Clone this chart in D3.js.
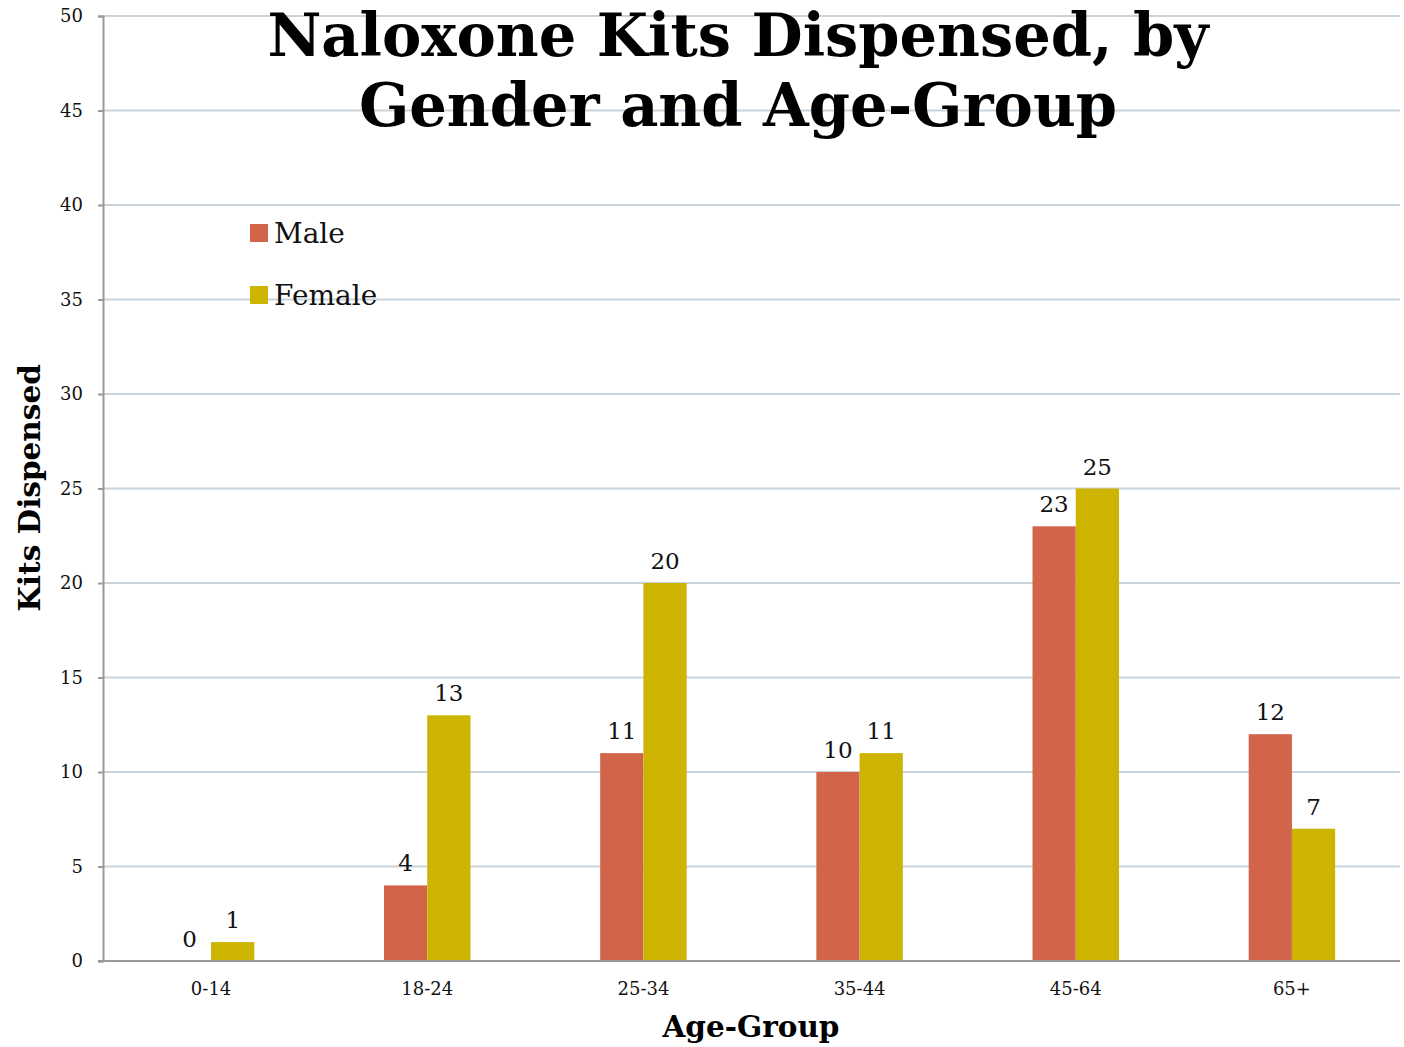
<!DOCTYPE html>
<html><head><meta charset="utf-8">
<script src="https://cdn.jsdelivr.net/npm/d3@7"></script>
<style>body{margin:0;background:#fff}svg{display:block}</style>
</head><body>
<svg id="chart" width="1404" height="1047"></svg>
<script>
const categories = ["0-14","18-24","25-34","35-44","45-64","65+"];
const seriesNames = ["Male","Female"];
const maleValues = [0,4,11,10,23,12];
const femaleValues = [1,13,20,11,25,7];
const yTicks = [0,5,10,15,20,25,30,35,40,45,50];
const colors = ["#d2644a","#ccb400"];
const titleLines = ["Naloxone Kits Dispensed, by","Gender and Age-Group"];

const font = "'DejaVu Serif', Georgia, serif";
const svg = d3.select("#chart");
const m = {left:103, right:1400, top:16, bottom:961};

const x = d3.scaleBand().domain(categories).range([m.left, m.right]).paddingInner(0).paddingOuter(0);
const xs = d3.scaleBand().domain(seriesNames).range([x.bandwidth()*0.3, x.bandwidth()*0.7]);
const y = d3.scaleLinear().domain([0,50]).range([m.bottom, m.top]);

// gridlines
svg.append("g").selectAll("line").data(yTicks.filter(d=>d>0)).join("line")
  .attr("x1", m.left).attr("x2", m.right)
  .attr("y1", d=>y(d)).attr("y2", d=>y(d))
  .attr("stroke", "#c9d3db").attr("stroke-width", 2);

// y axis
const yAxis = svg.append("g").attr("transform", `translate(${m.left},0)`)
  .call(d3.axisLeft(y).tickValues(yTicks).tickSize(5).tickPadding(15));
yAxis.select(".domain").attr("stroke", "#999").attr("stroke-width", 2);
yAxis.selectAll(".tick line").attr("stroke", "#999").attr("stroke-width", 2);
yAxis.selectAll(".tick text").attr("font-family", font).attr("font-size", 18).attr("fill", "#111");

// bars
const data = categories.map((c,i)=>({cat:c, vals:[{s:"Male", v:maleValues[i]},{s:"Female", v:femaleValues[i]}]}));
const groups = svg.append("g").selectAll("g").data(data).join("g")
  .attr("transform", d=>`translate(${x(d.cat)},0)`);
groups.selectAll("rect").data(d=>d.vals).join("rect")
  .attr("x", d=>xs(d.s)).attr("width", xs.bandwidth())
  .attr("y", d=>y(d.v)).attr("height", d=>y(0)-y(d.v))
  .attr("fill", (d,i)=>colors[i]);
groups.selectAll("text").data(d=>d.vals).join("text")
  .attr("x", d=>xs(d.s)+xs.bandwidth()/2).attr("y", d=>y(d.v)-14)
  .attr("text-anchor","middle").attr("font-family", font).attr("font-size", 23).attr("fill","#111")
  .text(d=>d.v);

// x axis
const xAxis = svg.append("g").attr("transform", `translate(0,${m.bottom})`)
  .call(d3.axisBottom(x).tickSize(0).tickPadding(21));
xAxis.select(".domain").attr("stroke", "#999").attr("stroke-width", 2).attr("d", `M${m.left-5},0H${m.right}`);
xAxis.selectAll(".tick text").attr("font-family", font).attr("font-size", 18).attr("fill", "#111");

// axis titles
svg.append("text").attr("x", 751).attr("y", 1037).attr("text-anchor","middle")
  .attr("font-family", font).attr("font-weight","bold").attr("font-size", 29.5).attr("fill","#000").text("Age-Group");
svg.append("text").attr("transform","translate(40,488) rotate(-90)").attr("text-anchor","middle")
  .attr("font-family", font).attr("font-weight","bold").attr("font-size", 29.5).attr("fill","#000").text("Kits Dispensed");

// title
svg.append("g").selectAll("text").data(titleLines).join("text")
  .attr("x", 738).attr("y", (d,i)=>56+i*70).attr("text-anchor","middle")
  .attr("font-family", font).attr("font-weight","bold").attr("font-size", 59).attr("fill","#000")
  .text(d=>d);

// legend
const lg = svg.append("g").selectAll("g").data(seriesNames).join("g")
  .attr("transform", (d,i)=>`translate(250,${224+i*62})`);
lg.append("rect").attr("width",18).attr("height",18).attr("fill",(d,i)=>colors[i]);
lg.append("text").attr("x",24).attr("y",19).attr("font-family",font).attr("font-size",28).attr("fill","#111").text(d=>d);
</script>
</body></html>
